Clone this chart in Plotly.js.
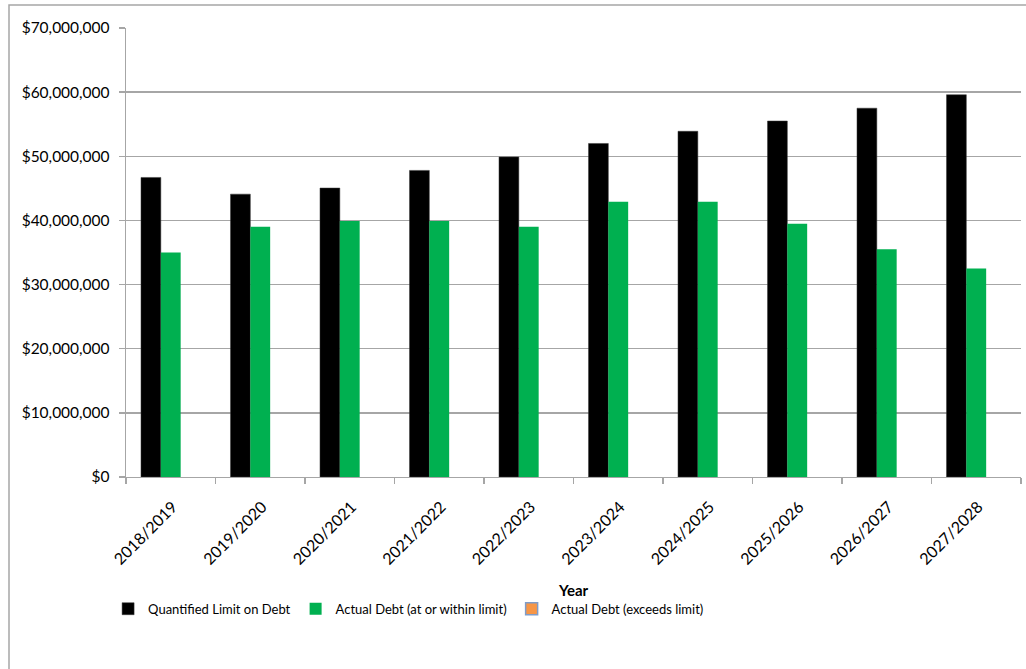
<!DOCTYPE html>
<html>
<head>
<meta charset="utf-8">
<script src="https://cdn.plot.ly/plotly-3.0.1.min.js"></script>
<style>
  html, body { margin: 0; padding: 0; background: #ffffff; }
  #chart { width: 1026px; height: 669px; }
</style>
</head>
<body>
<div id="chart"></div>
<script>
// Fiscal years on the category axis
const years = ['2018/2019', '2019/2020', '2020/2021', '2021/2022', '2022/2023',
               '2023/2024', '2024/2025', '2025/2026', '2026/2027', '2027/2028'];

// Debt limit per year (dollars)
const quantifiedLimit = [46700000, 44100000, 45050000, 47800000, 49900000,
                         52000000, 53900000, 55500000, 57500000, 59600000];

// Projected debt that stays at or within the limit
const debtWithinLimit = [35000000, 39000000, 39900000, 39900000, 39000000,
                         42900000, 42900000, 39500000, 35500000, 32500000];

// Projected debt above the limit (none in any year)
const debtExceedsLimit = [null, null, null, null, null,
                          null, null, null, null, null];

const font = 'Lato, "Open Sans", "Liberation Sans", sans-serif';
const gridGrey = '#a6a6a6';

const traces = [
  {
    type: 'bar', name: 'Quantified Limit on Debt', x: years, y: quantifiedLimit,
    marker: { color: '#000000', line: { color: '#3a3a3a', width: 0.5 } }
  },
  {
    type: 'bar', name: 'Actual Debt (at or within limit)', x: years, y: debtWithinLimit,
    marker: { color: '#00b050', line: { color: '#00b050', width: 0 } }
  },
  {
    type: 'bar', name: 'Actual Debt (exceeds limit)', x: years, y: debtExceedsLimit,
    marker: { color: '#f79646', line: { color: '#7f9cc8', width: 1.5 } }
  }
];

const layout = {
  width: 1026, height: 669,
  margin: { l: 126, r: 5, t: 28, b: 192 },
  paper_bgcolor: '#ffffff', plot_bgcolor: '#ffffff',
  font: { family: font, size: 15.5, color: '#000000' },
  barmode: 'group', bargap: 0.335, bargroupgap: 0,
  showlegend: true,
  legend: {
    orientation: 'h', x: -0.02, xanchor: 'left', y: -0.26, yanchor: 'top',
    font: { family: font, size: 13, color: '#000000' },
    itemwidth: 30, tracegroupgap: 0, traceorder: 'normal'
  },
  xaxis: {
    type: 'category', tickangle: -45,
    ticks: 'outside', tickson: 'boundaries', ticklen: 6, tickcolor: gridGrey, tickwidth: 1.3,
    ticklabelstandoff: 13, ticklabelshift: 2,
    showline: true, linecolor: gridGrey, linewidth: 1.3,
    showgrid: false, zeroline: false,
    tickfont: { family: font, size: 16, color: '#000000' },
    title: { text: '<b>Year</b>', font: { family: font, size: 15, color: '#000000' }, standoff: 18 }
  },
  yaxis: {
    range: [0, 70000000], dtick: 10000000, tick0: 0,
    tickprefix: '$', tickformat: ',d',
    ticks: 'outside', ticklen: 6, tickcolor: gridGrey, tickwidth: 1.3,
    ticklabelstandoff: 6,
    showline: true, linecolor: gridGrey, linewidth: 1.3,
    showgrid: true, gridcolor: gridGrey, gridwidth: 1.3, zeroline: false,
    tickfont: { family: font, size: 15.5, color: '#000000' }
  },
  shapes: [
    // chart-area frame running off the right and bottom edges
    {
      type: 'rect', xref: 'paper', yref: 'paper',
      x0: (9 - 126) / 895, x1: 1.05, y0: -0.5, y1: (477 - 5) / 449,
      line: { color: '#a6a6a6', width: 1.5 }, fillcolor: 'rgba(0,0,0,0)', layer: 'below'
    }
  ]
};

Plotly.newPlot('chart', traces, layout, { displayModeBar: false, staticPlot: true });
</script>
</body>
</html>
